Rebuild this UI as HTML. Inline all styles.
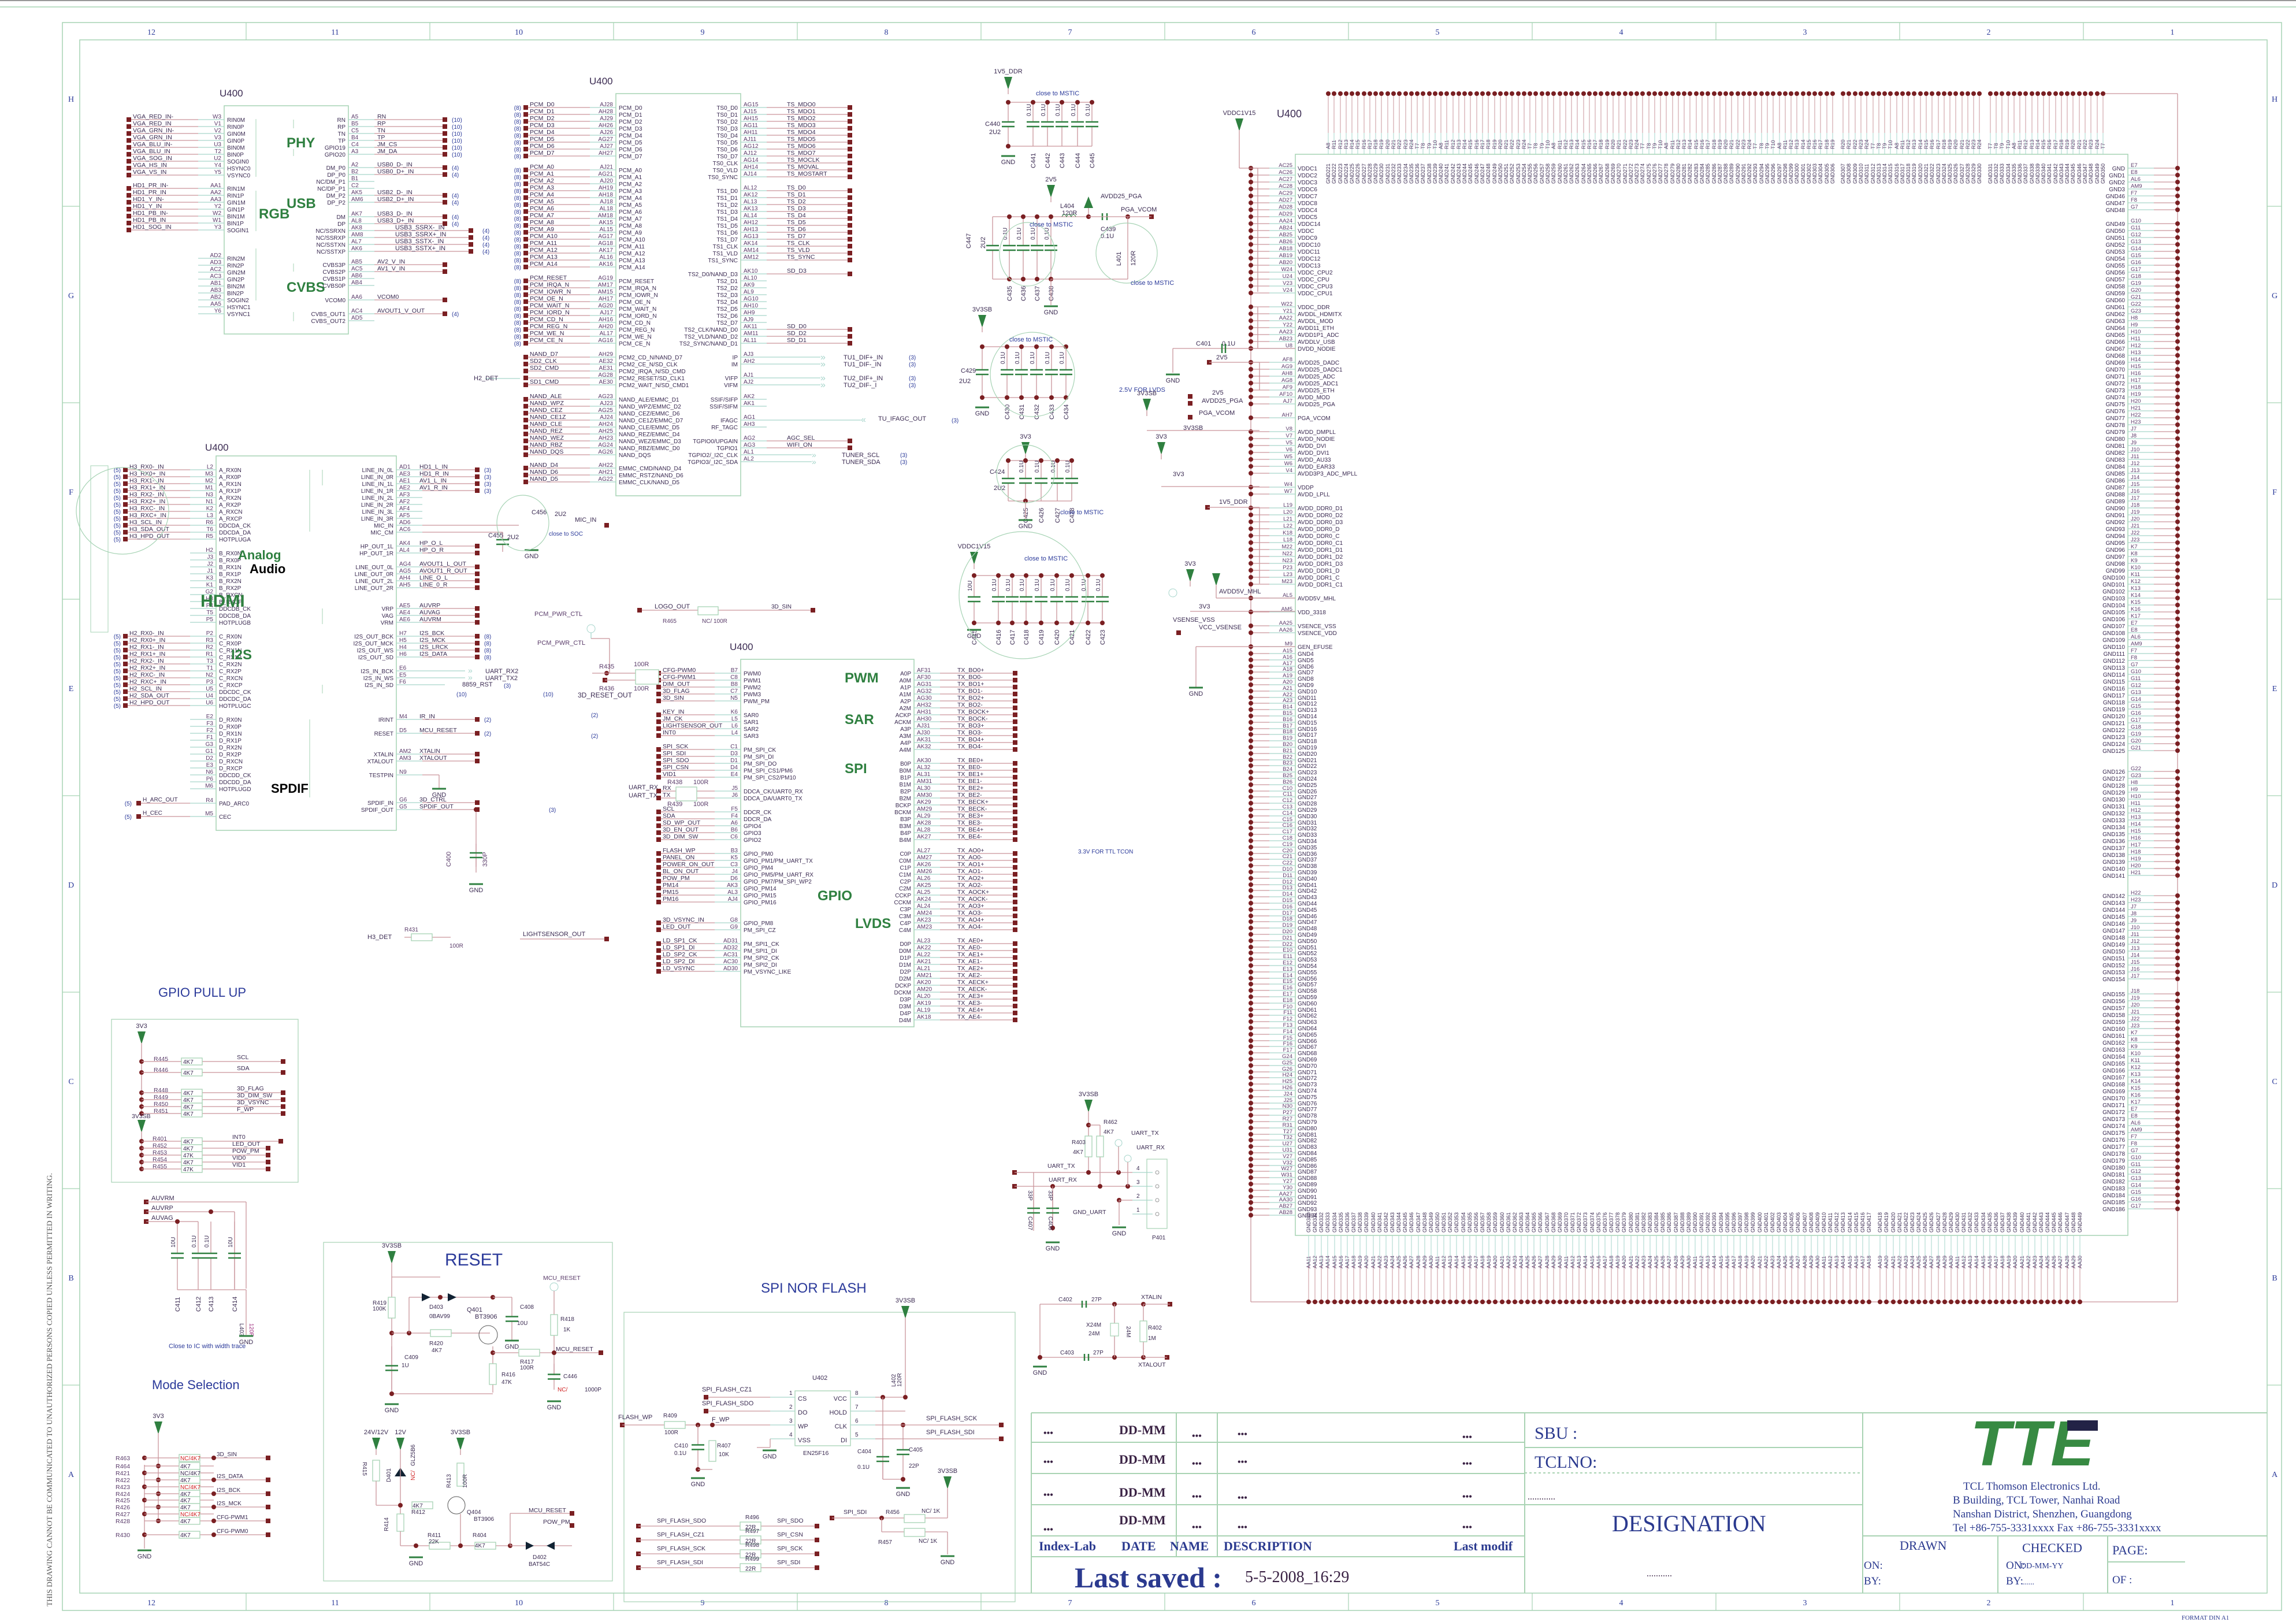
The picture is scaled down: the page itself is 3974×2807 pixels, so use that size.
<!DOCTYPE html>
<html><head><meta charset="utf-8"><style>
html,body{margin:0;padding:0;background:#fff;}
svg{display:block;}
</style></head><body>
<svg id="s" xmlns="http://www.w3.org/2000/svg" width="3974" height="2807" viewBox="0 0 3974 2807" font-family="Liberation Sans, sans-serif">
<rect width="3974" height="2807" fill="#fff"/>
<g id="g"></g>
<g stroke="#a9d3b3" stroke-width="2" fill="none">
<line x1="1785" y1="2445" x2="3924" y2="2445"/>
<line x1="1785" y1="2445" x2="1785" y2="2757"/>
<line x1="1785" y1="2496" x2="2639" y2="2496"/>
<line x1="1785" y1="2550" x2="2639" y2="2550"/>
<line x1="1785" y1="2604" x2="3224" y2="2604"/>
<line x1="1785" y1="2658" x2="2639" y2="2658"/>
<line x1="1785" y1="2694" x2="2639" y2="2694"/>
<line x1="2036" y1="2445" x2="2036" y2="2694"/>
<line x1="2107" y1="2445" x2="2107" y2="2694"/>
<line x1="2639" y1="2445" x2="2639" y2="2757"/>
<line x1="3224" y1="2445" x2="3224" y2="2757"/>
<line x1="2639" y1="2505" x2="3224" y2="2505"/>
<line x1="2639" y1="2549" x2="3224" y2="2549" stroke-dasharray="4 4"/>
<line x1="3224" y1="2658" x2="3924" y2="2658"/>
<line x1="3458" y1="2658" x2="3458" y2="2757"/>
<line x1="3648" y1="2658" x2="3648" y2="2757"/>
<line x1="3648" y1="2703" x2="3782" y2="2703"/>
</g>
<g font-family="Liberation Serif, serif">
<g fill="#3a2244" font-weight="bold" font-size="22">
<text x="1937" y="2482">DD-MM</text><text x="1937" y="2533">DD-MM</text><text x="1937" y="2590">DD-MM</text><text x="1937" y="2638">DD-MM</text>
</g>
<g fill="#3a2244" font-weight="bold" font-size="16">
<text x="1806" y="2485">•••</text><text x="2063" y="2490">•••</text><text x="2142" y="2487">•••</text><text x="2531" y="2492">•••</text>
<text x="1806" y="2535">•••</text><text x="2063" y="2538">•••</text><text x="2142" y="2535">•••</text><text x="2531" y="2538">•••</text>
<text x="1806" y="2592">•••</text><text x="2063" y="2595">•••</text><text x="2142" y="2597">•••</text><text x="2531" y="2595">•••</text>
<text x="1806" y="2652">•••</text><text x="2063" y="2648">•••</text><text x="2142" y="2648">•••</text><text x="2531" y="2648">•••</text>
</g>
<g fill="#2b3a8f" font-weight="bold" font-size="22">
<text x="1798" y="2683">Index-Lab</text><text x="1941" y="2683">DATE</text><text x="2025" y="2683">NAME</text><text x="2118" y="2683">DESCRIPTION</text><text x="2516" y="2683">Last modif</text>
</g>
<text x="1860" y="2747" fill="#2b3a8f" font-weight="bold" font-size="50" textLength="255" lengthAdjust="spacingAndGlyphs">Last saved :</text>
<text x="2155" y="2738" fill="#3a2244" font-size="28">5-5-2008_16:29</text>
<g fill="#2b3a8f" font-size="30">
<text x="2656" y="2490">SBU :</text>
<text x="2656" y="2540">TCLNO:</text>
</g>
<text x="2644" y="2595" fill="#3a2244" font-size="16">............</text>
<text x="2790" y="2650" fill="#2b3a8f" font-size="40">DESIGNATION</text>
<text x="2850" y="2728" fill="#3a2244" font-size="16">...........</text>
<g fill="#2b3a8f" font-size="19">
<text x="3398" y="2578">TCL Thomson Electronics Ltd.</text>
<text x="3380" y="2602">B Building, TCL Tower, Nanhai Road</text>
<text x="3380" y="2626">Nanshan District, Shenzhen, Guangdong</text>
<text x="3380" y="2650">Tel +86-755-3331xxxx    Fax +86-755-3331xxxx</text>
<text x="3288" y="2682" font-size="22">DRAWN</text>
<text x="3500" y="2686" font-size="22">CHECKED</text>
<text x="3656" y="2690" font-size="22">PAGE:</text>
<text x="3226" y="2715">ON:</text><text x="3226" y="2742">BY:</text>
<text x="3472" y="2715">ON:</text><text x="3497" y="2714" font-size="14">DD-MM-YY</text>
<text x="3472" y="2742">BY:</text><text x="3500" y="2742" font-size="14">......</text>
<text x="3656" y="2740">OF :</text>
</g>
<text x="3776" y="2803" fill="#2b3a8f" font-size="11">FORMAT DIN A1</text>
</g>
<g>
<text x="3410" y="2536" fill="#378a42" font-weight="bold" font-size="110" font-style="italic" textLength="215" lengthAdjust="spacingAndGlyphs" font-family="Liberation Sans, sans-serif">TTE</text>
<rect x="3578" y="2458" width="53" height="18" fill="#232346"/>
</g>
</svg>
<script>
(function(){
const W=[];
const C={w:'#c9959b',s:'#a6d5cb',b:'#a6d3b4',t:'#3b2b52',n:'#5b3d6b',bl:'#2b3a9a',g:'#2f8040',q:'#7a1f22'};
function esc(s){return String(s).replace(/&/g,'&amp;').replace(/</g,'&lt;')}
function T(x,y,s,o){o=o||{};W.push('<text x="'+x+'" y="'+y+'" font-size="'+(o.f||10)+'" fill="'+(o.c||C.t)+'"'+(o.a?' text-anchor="'+o.a+'"':'')+(o.w?' font-weight="'+o.w+'"':'')+(o.r!==undefined?' transform="rotate('+o.r+' '+x+' '+y+')"':'')+(o.ff?' font-family="'+o.ff+'"':'')+(o.tl?' textLength="'+o.tl+'" lengthAdjust="spacingAndGlyphs"':'')+'>'+esc(s)+'</text>')}
function L(x1,y1,x2,y2,c,w,d){W.push('<line x1="'+x1+'" y1="'+y1+'" x2="'+x2+'" y2="'+y2+'" stroke="'+(c||C.w)+'" stroke-width="'+(w||1.3)+'"'+(d?' stroke-dasharray="'+d+'"':'')+'/>')}
function R(x,y,w,h,c,f,sw){W.push('<rect x="'+x+'" y="'+y+'" width="'+w+'" height="'+h+'" fill="'+(f||'none')+'" stroke="'+(c||C.b)+'" stroke-width="'+(sw||1.5)+'"/>')}
function Q(x,y){W.push('<rect x="'+(x-4)+'" y="'+(y-4)+'" width="8" height="8" fill="'+C.q+'"/>')}
function D(x,y){W.push('<circle cx="'+x+'" cy="'+y+'" r="4" fill="'+C.q+'"/>')}
function E(cx,cy,rx,ry){W.push('<ellipse cx="'+cx+'" cy="'+cy+'" rx="'+rx+'" ry="'+ry+'" fill="none" stroke="'+C.b+'" stroke-width="1.2"/>')}
function ARR(x,y,lab){W.push('<polygon points="'+(x-7)+','+y+' '+(x+7)+','+y+' '+x+','+(y+22)+'" fill="'+C.g+'"/>');L(x,y+20,x,y+30,C.w);if(lab)T(x,y-6,lab,{a:'middle',f:11})}
function GND(x,y){L(x-12,y,x+12,y,C.g,3);T(x,y+14,'GND',{a:'middle',f:11})}
function CAPV(x,y1,y2,lab,val){const m=(y1+y2)/2;L(x,y1,x,m-4,C.w);L(x,m+4,x,y2,C.w);L(x-11,m-4,x+11,m-4,C.g,2.5);L(x-11,m+4,x+11,m+4,C.g,2.5);if(val)T(x-4,m-14,val,{r:-90,f:10});if(lab)T(x+4,y2+38,lab,{r:-90,f:11})}
function RES(x,y,w,h){R(x,y,w,h,C.b,'#fff',1.3)}
function sp(s){return s.split(' ')}
function seq(y0,st,pins,nums,sigs,ref){const r=[];pins=sp(pins);nums=sp(nums);const sg=(sigs==null)?null:sp(sigs);pins.forEach((p,i)=>{r.push([y0+st*i,p.replace(/~/g,' '),nums[i]||'',sg?(sg[i]==='-'?'':sg[i]):null,ref])});return r}
function blk(x1,y1,x2,y2,left,right,o){
 R(x1,y1,x2-x1,y2-y1,C.b,'none',1.5);
 left.forEach(a=>{const [y,pn,num,sig,ref]=a;L(x1-45,y,x1,y,C.s);T(x1-5,y-2,num,{a:'end',c:C.n});T(x1+5,y+4,pn);
  if(sig!==null&&sig!==undefined){const q=o.lq;L(q,y,x1-45,y,C.w);Q(q,y);if(sig)T(q+7,y-2,sig,{f:10.5});if(ref&&sig)T(q-8,y+4,ref,{a:'end',c:C.bl})}});
 right.forEach(a=>{const [y,pn,num,sig,ref]=a;L(x2,y,x2+45,y,C.s);T(x2+5,y-2,num,{c:C.n});T(x2-5,y+4,pn,{a:'end'});
  if(sig!==null&&sig!==undefined){const q=o.rq;L(x2+45,y,q,y,C.w);Q(q,y);if(sig)T(x2+o.rt,y-2,sig,{f:10.5});if(ref&&sig)T(q+12,y+4,ref,{c:C.bl})}});
}
function GL(x,y,s,f){T(x,y,s,{f:f||24,w:'bold',c:C.g})}
try{
// ===== FRAME =====
L(0,1,3974,1,'#999',2);L(0,12,3974,12,C.b,1.5);
R(108,39,3841,2748,C.b,'none',1.5);R(138,69,3786,2688,C.b,'none',1.5);
for(let k=1;k<12;k++){const x=108+318*k;L(x,39,x,69,C.b,1.2);L(x,2757,x,2787,C.b,1.2)}
for(let k=0;k<12;k++){const x=262+318*k;T(x,60,String(12-k),{c:C.bl,f:14,ff:'Liberation Serif, serif',a:'middle'});T(x,2778,String(12-k),{c:C.bl,f:14,ff:'Liberation Serif, serif',a:'middle'})}
const RL=sp('H G F E D C B A');
RL.forEach((l,i)=>{const y=176+340*i;T(123,y,l,{c:C.bl,f:14,ff:'Liberation Serif, serif',a:'middle'});T(3937,y,l,{c:C.bl,f:14,ff:'Liberation Serif, serif',a:'middle'});if(i<7){L(108,357+340*i,138,357+340*i,C.b);L(3924,357+340*i,3949,357+340*i,C.b)}});
T(90,2780,'THIS DRAWING CANNOT BE COMMUNICATED TO UNAUTHORIZED PERSONS COPIED UNLESS PERMITTED IN WRITING.',{r:-90,f:13,c:'#555',ff:'Liberation Serif, serif',tl:750});

// ===== BLOCK 1 VGA =====
T(380,167,'U400',{f:17});
let l1=[].concat(
 seq(207,12,'RIN0M RIN0P GIN0M GIN0P BIN0M BIN0P SOGIN0 HSYNC0 VSYNC0','W3 V1 V2 V3 U3 T2 U2 Y4 Y5','VGA_RED_IN- VGA_RED_IN VGA_GRN_IN- VGA_GRN_IN VGA_BLU_IN- VGA_BLU_IN VGA_SOG_IN VGA_HS_IN VGA_VS_IN'),
 seq(326,12,'RIN1M RIN1P GIN1M GIN1P BIN1M BIN1P SOGIN1','AA1 AA2 AA3 Y2 W2 W1 Y3','HD1_PR_IN- HD1_PR_IN HD1_Y_IN- HD1_Y_IN HD1_PB_IN- HD1_PB_IN HD1_SOG_IN'),
 seq(447,12,'RIN2M RIN2P GIN2M GIN2P BIN2M BIN2P SOGIN2 HSYNC1 VSYNC1','AD2 AD3 AC2 AC3 AB1 AB3 AB2 AA5 Y6',null));
let r1=[].concat(
 seq(207,12,'RN RP TN TP GPIO19 GPIO20','A5 B5 C5 B4 C4 A3','RN RP TN TP JM_CS JM_DA','(10)'),
 seq(290,12,'DM_P0 DP_P0','A2 B2','USB0_D-_IN USB0_D+_IN','(4)'),
 seq(314,12,'NC/DM_P1 NC/DP_P1','B1 C2',null),
 seq(338,12,'DM_P2 DP_P2','AK5 AM6','USB2_D-_IN USB2_D+_IN','(4)'),
 seq(375,12,'DM DP','AK7 AL8','USB3_D-_IN USB3_D+_IN','(4)'),
 seq(458,12,'CVBS3P CVBS2P','AB5 AC5','AV2_V_IN AV1_V_IN'),
 seq(482,12,'CVBS1P CVBS0P','AB6 AB4',null),
 seq(519,12,'VCOM0','AA6','VCOM0'),
 seq(543,12,'CVBS_OUT1','AC4','AVOUT1_V_OUT','(4)'),
 seq(555,12,'CVBS_OUT2','AD5',null));
blk(388,183,603,578,l1,r1,{lq:223,rq:770,rt:50});
seq(399,12,'NC/SSRXN NC/SSRXP NC/SSTXN NC/SSTXP','AK8 AM8 AL7 AK6',null).forEach(a=>{const y=a[0];L(603,y,648,y,C.s);T(608,y-2,a[2],{c:C.n});T(598,y+4,a[1],{a:'end'});L(648,y,815,y,C.w);Q(815,y);T(835,y+4,'(4)',{c:C.bl})});
sp('USB3_SSRX-_IN USB3_SSRX+_IN USB3_SSTX-_IN USB3_SSTX+_IN').forEach((s,i)=>T(684,397+12*i,s,{f:11}));
GL(496,255,'PHY');GL(496,360,'USB');GL(448,378,'RGB');GL(496,505,'CVBS');
[[443,206,443,306],[443,330,443,400],[443,430,443,520]].forEach(a=>L(a[0],a[1],a[2],a[3],C.b,1));
[[508,207,508,222],[508,258,508,270],[508,456,508,470],[508,540,508,556]].forEach(a=>L(a[0],a[1],a[2],a[3],C.b,1));

// ===== BLOCK 2 HDMI =====
T(355,780,'U400',{f:17});
let l2=[].concat(
 seq(813,12,'A_RX0N A_RX0P A_RX1N A_RX1P A_RX2N A_RX2P A_RXCN A_RXCP DDCDA_CK DDCDA_DA HOTPLUGA','L2 M3 M2 M1 N3 N1 K2 L3 R6 T6 R5','H3_RX0-_IN H3_RX0+_IN H3_RX1-_IN H3_RX1+_IN H3_RX2-_IN H3_RX2+_IN H3_RXC-_IN H3_RXC+_IN H3_SCL_IN H3_SDA_OUT H3_HPD_OUT','(5)'),
 seq(957,12,'B_RX0N B_RX0P B_RX1N B_RX1P B_RX2N B_RX2P B_RXCN B_RXCP DDCDB_CK DDCDB_DA HOTPLUGB','H2 J3 J2 J1 K3 K1 G2 H3 P4 T5 P5',null),
 seq(1101,12,'C_RX0N C_RX0P C_RX1N C_RX1P C_RX2N C_RX2P C_RXCN C_RXCP DDCDC_CK DDCDC_DA HOTPLUGC','P2 R3 R2 R1 T3 T1 N2 P3 U5 U4 U6','H2_RX0-_IN H2_RX0+_IN H2_RX1-_IN H2_RX1+_IN H2_RX2-_IN H2_RX2+_IN H2_RXC-_IN H2_RXC+_IN H2_SCL_IN H2_SDA_OUT H2_HPD_OUT','(5)'),
 seq(1245,12,'D_RX0N D_RX0P D_RX1N D_RX1P D_RX2N D_RX2P D_RXCN D_RXCP DDCDD_CK DDCDD_DA HOTPLUGD','E2 F3 F2 F1 G3 G1 D2 E3 N6 P6 M6',null));
let r2=[].concat(
 seq(813,12,'LINE_IN_0L LINE_IN_0R LINE_IN_1L LINE_IN_1R','AD1 AE3 AE1 AE2','HD1_L_IN HD1_R_IN AV1_L_IN AV1_R_IN','(3)'),
 seq(861,12,'LINE_IN_2L LINE_IN_2R LINE_IN_3L LINE_IN_3R MIC_IN MIC_CM','AF3 AF2 AF4 AF5 AD6 AC6',null),
 seq(945,12,'HP_OUT_1L HP_OUT_1R','AK4 AL4','HP_O_L HP_O_R'),
 seq(981,12,'LINE_OUT_0L LINE_OUT_0R LINE_OUT_2L LINE_OUT_2R','AG4 AG5 AH4 AH5','AVOUT1_L_OUT AVOUT1_R_OUT LINE_O_L LINE_0_R'),
 seq(1053,12,'VRP VAG VRM','AE5 AE4 AE6','AUVRP AUVAG AUVRM'),
 seq(1101,12,'I2S_OUT_BCK I2S_OUT_MCK I2S_OUT_WS I2S_OUT_SD','H7 H5 H4 H6','I2S_BCK I2S_MCK I2S_LRCK I2S_DATA','(8)'),
 seq(1161,12,'I2S_IN_BCK I2S_IN_WS I2S_IN_SD','E6 E5 F6',null),
 seq(1245,24,'IRINT RESET','M4 D5','IR_IN MCU_RESET','(2)'),
 seq(1305,12,'XTALIN XTALOUT','AM2 AM3','XTALIN XTALOUT'),
 seq(1341,12,'TESTPIN','N9',null),
 seq(1389,12,'SPDIF_IN SPDIF_OUT','G6 G5','3D_CTRL SPDIF_OUT'));
blk(374,789,686,1437,l2,r2,{lq:217,rq:826,rt:40});
seq(1390,23,'PAD_ARC0 CEC','R4 M5','H_ARC_OUT H_CEC','(5)').forEach(a=>{const y=a[0];L(329,y,374,y,C.s);T(369,y-2,a[2],{a:'end',c:C.n});T(379,y+4,a[1]);L(240,y,329,y,C.w);Q(240,y);T(247,y-3,a[3]);T(228,y+4,'(5)',{a:'end',c:C.bl})});
GL(347,1050,'HDMI',30);GL(412,968,'Analog',22);T(432,992,'Audio',{f:22,w:'bold',c:'#000'});GL(400,1141,'I2S',24);T(469,1372,'SPDIF',{f:22,w:'bold',c:'#000'});
R(157,806,30,288,C.b,'none',1);E(212,884,80,75);
[[536,813,536,920],[558,813,558,840],[558,1053,558,1080],[558,1185,558,1200],[536,1245,536,1380]].forEach(a=>L(a[0],a[1],a[2],a[3],C.b,1));
L(731,909,898,909,C.w);L(731,921,870,921,C.w);CAPV(870,921,955,'','');T(845,930,'C455',{f:11});T(878,933,'2U2',{f:11});T(920,890,'C456',{f:11});T(960,893,'2U2',{f:11});
Q(1050,909);T(995,903,'MIC_IN',{f:11});GND(920,952);E(905,905,45,48);T(950,927,'close to SOC',{c:C.bl,f:10});
[['UART_RX2',1161],['UART_TX2',1173]].forEach(a=>{L(731,a[1],805,a[1],C.s);T(810,a[1]+4,'»',{c:C.s,f:14});T(840,a[1]+4,a[0],{f:11})});
L(731,1185,770,1185,C.s);T(800,1188,'8859_RST',{f:11});T(872,1190,'(3)',{c:C.bl});T(790,1205,'(10)',{c:C.bl});
L(731,1341,760,1341,C.w);L(760,1341,760,1365,C.w);GND(760,1365);
L(824,1401,824,1510,C.w);D(824,1401);CAPV(824,1460,1500,'','');T(780,1500,'C400',{r:-90,f:11,c:C.n});T(843,1500,'330P',{r:-90,f:11,c:C.n});GND(824,1530);T(950,1405,'(3)',{c:C.bl});

// ===== BLOCK 3 PCM/TS =====
T(1020,146,'U400',{f:17});
let l3=[].concat(
 seq(186,12,'PCM_D0 PCM_D1 PCM_D2 PCM_D3 PCM_D4 PCM_D5 PCM_D6 PCM_D7','AJ28 AH28 AJ29 AH26 AJ26 AG27 AJ27 AH27','PCM_D0 PCM_D1 PCM_D2 PCM_D3 PCM_D4 PCM_D5 PCM_D6 PCM_D7','(8)'),
 seq(294,12,'PCM_A0 PCM_A1 PCM_A2 PCM_A3 PCM_A4 PCM_A5 PCM_A6 PCM_A7 PCM_A8 PCM_A9 PCM_A10 PCM_A11 PCM_A12 PCM_A13 PCM_A14','AJ21 AG21 AJ20 AH19 AH18 AJ18 AL18 AM18 AK15 AL15 AG17 AG18 AK17 AL16 AK16','PCM_A0 PCM_A1 PCM_A2 PCM_A3 PCM_A4 PCM_A5 PCM_A6 PCM_A7 PCM_A8 PCM_A9 PCM_A10 PCM_A11 PCM_A12 PCM_A13 PCM_A14','(8)'),
 seq(486,12,'PCM_RESET PCM_IRQA_N PCM_IOWR_N PCM_OE_N PCM_WAIT_N PCM_IORD_N PCM_CD_N PCM_REG_N PCM_WE_N PCM_CE_N','AG19 AM17 AM15 AH17 AG20 AJ17 AH16 AH20 AL17 AG16','PCM_RESET PCM_IRQA_N PCM_IOWR_N PCM_OE_N PCM_WAIT_N PCM_IORD_N PCM_CD_N PCM_REG_N PCM_WE_N PCM_CE_N','(8)'),
 seq(618,12,'PCM2_CD_N/NAND_D7 PCM2_CE_N/SD_CLK PCM2_IRQA_N/SD_CMD PCM2_RESET/SD_CLK1 PCM2_WAIT_N/SD_CMD1','AH29 AE32 AE31 AG28 AE30','NAND_D7 SD2_CLK SD2_CMD - SD1_CMD'),
 seq(691,12,'NAND_ALE/EMMC_D1 NAND_WPZ/EMMC_D2 NAND_CEZ/EMMC_D6 NAND_CE1Z/EMMC_D7 NAND_CLE/EMMC_D5 NAND_REZ/EMMC_D4 NAND_WEZ/EMMC_D3 NAND_RBZ/EMMC_D0 NAND_DQS','AG23 AJ23 AG25 AJ24 AH24 AH25 AH23 AG24 AG26','NAND_ALE NAND_WPZ NAND_CEZ NAND_CE1Z NAND_CLE NAND_REZ NAND_WEZ NAND_RBZ NAND_DQS'),
 seq(810,12,'EMMC_CMD/NAND_D4 EMMC_RSTZ/NAND_D6 EMMC_CLK/NAND_D5','AH22 AH21 AG22','NAND_D4 NAND_D6 NAND_D5'));
let r3=[].concat(
 seq(186,12,'TS0_D0 TS0_D1 TS0_D2 TS0_D3 TS0_D4 TS0_D5 TS0_D6 TS0_D7 TS0_CLK TS0_VLD TS0_SYNC','AG15 AJ15 AH15 AG11 AH11 AJ11 AG12 AJ12 AG14 AH14 AJ14','TS_MDO0 TS_MDO1 TS_MDO2 TS_MDO3 TS_MDO4 TS_MDO5 TS_MDO6 TS_MDO7 TS_MOCLK TS_MOVAL TS_MOSTART'),
 seq(330,12,'TS1_D0 TS1_D1 TS1_D2 TS1_D3 TS1_D4 TS1_D5 TS1_D6 TS1_D7 TS1_CLK TS1_VLD TS1_SYNC','AL12 AK12 AL13 AK13 AL14 AH12 AH13 AG13 AK14 AM14 AM12','TS_D0 TS_D1 TS_D2 TS_D3 TS_D4 TS_D5 TS_D6 TS_D7 TS_CLK TS_VLD TS_SYNC'),
 seq(474,12,'TS2_D0/NAND_D3','AK10','SD_D3'),
 seq(486,12,'TS2_D1 TS2_D2 TS2_D3 TS2_D4 TS2_D5 TS2_D6 TS2_D7','AL10 AK9 AL9 AG10 AH10 AH9 AJ9',null),
 seq(570,12,'TS2_CLK/NAND_D0 TS2_VLD/NAND_D2 TS2_SYNC/NAND_D1','AK11 AM11 AL11','SD_D0 SD_D2 SD_D1'),
 seq(618,12,'IP IM','AJ3 AH2',null),seq(654,12,'VIFP VIFM','AJ1 AJ2',null),
 seq(691,12,'SSIF/SIFP SSIF/SIFM','AK2 AK1',null),seq(727,12,'IFAGC RF_TAGC','AG1 AH3',null),
 seq(763,12,'TGPIO0/UPGAIN TGPIO1','AG2 AG3','AGC_SEL WIFI_ON'),
 seq(787,12,'TGPIO2/_I2C_CLK TGPIO3/_I2C_SDA','AL1 AL2',null));
blk(1066,162,1282,858,l3,r3,{lq:910,rq:1471,rt:80});
[['TU1_DIF+_IN',618],['TU1_DIF-_IN',630],['TU2_DIF+_IN',654],['TU2_DIF-_I',666]].forEach(a=>{L(1327,a[1],1420,a[1],C.s);T(1420,a[1]+5,'»',{c:C.s,f:16});T(1460,a[1]+4,a[0],{f:11});T(1573,a[1]+4,'(3)',{c:C.bl})});
L(1327,727,1490,727,C.s);T(1490,731,'«',{c:C.s,f:16});T(1520,728,'TU_IFAGC_OUT',{f:11});T(1647,731,'(3)',{c:C.bl});
[['TUNER_SCL',787],['TUNER_SDA',799]].forEach(a=>{L(1327,a[1],1405,a[1],C.s);T(1405,a[1]+5,'»',{c:C.s,f:14});T(1457,a[1]+4,a[0],{f:11});T(1558,a[1]+4,'(3)',{c:C.bl})});
L(840,655,900,655,C.s);T(820,658,'H2_DET',{f:11});

// ===== BLOCK 4 PWM/GPIO =====
T(1263,1125,'U400',{f:17});
let l4=[].concat(
 seq(1165,12,'PWM0 PWM1 PWM2 PWM3 PWM_PM','B7 C8 B8 C7 N5','CFG-PWM0 CFG-PWM1 DIM_OUT 3D_FLAG 3D_SIN'),
 seq(1237,12,'SAR0 SAR1 SAR2 SAR3','K6 L5 L6 L4','KEY_IN JM_CK LIGHTSENSOR_OUT INT0'),
 seq(1297,12,'PM_SPI_CK PM_SPI_DI PM_SPI_DO PM_SPI_CS1/PM6 PM_SPI_CS2/PM10','C1 D3 D1 D4 E4','SPI_SCK SPI_SDI SPI_SDO SPI_CSN VID1'),
 seq(1369,12,'DDCA_CK/UART0_RX DDCA_DA/UART0_TX','J5 J6','RX TX'),
 seq(1405,12,'DDCR_CK DDCR_DA GPIO4 GPIO3 GPIO2','F5 F4 A6 B6 C6','SCL SDA SD_WP_OUT 3D_EN_OUT 3D_DIM_SW'),
 seq(1477,12,'GPIO_PM0 GPIO_PM1/PM_UART_TX GPIO_PM4 GPIO_PM5/PM_UART_RX GPIO_PM7/PM_SPI_WP2 GPIO_PM14 GPIO_PM15 GPIO_PM16','B3 K5 C3 J4 D6 AK3 AL3 AJ4','FLASH_WP PANEL_ON POWER_ON_OUT BL_ON_OUT POW_PM PM14 PM15 PM16'),
 seq(1597,12,'GPIO_PM8 PM_SPI_CZ','G8 G9','3D_VSYNC_IN LED_OUT'),
 seq(1633,12,'PM_SPI1_CK PM_SPI1_DI PM_SPI2_CK PM_SPI2_DI PM_VSYNC_LIKE','AD31 AD32 AC31 AC30 AD30','LD_SP1_CK LD_SP1_DI LD_SP2_CK LD_SP2_DI LD_VSYNC'));
let r4=[].concat(
 seq(1165,12,'A0P A0M A1P A1M A2P A2M ACKP ACKM A3P A3M A4P A4M','AF31 AF30 AG31 AG32 AG30 AH32 AH31 AH30 AJ31 AJ30 AK31 AK32','TX_BO0+ TX_BO0- TX_BO1+ TX_BO1- TX_BO2+ TX_BO2- TX_BOCK+ TX_BOCK- TX_BO3+ TX_BO3- TX_BO4+ TX_BO4-'),
 seq(1321,12,'B0P B0M B1P B1M B2P B2M BCKP BCKM B3P B3M B4P B4M','AK30 AL32 AL31 AM31 AL30 AM30 AK29 AM29 AL29 AK28 AL28 AK27','TX_BE0+ TX_BE0- TX_BE1+ TX_BE1- TX_BE2+ TX_BE2- TX_BECK+ TX_BECK- TX_BE3+ TX_BE3- TX_BE4+ TX_BE4-'),
 seq(1477,12,'C0P C0M C1P C1M C2P C2M CCKP CCKM C3P C3M C4P C4M','AL27 AM27 AK26 AM26 AL26 AK25 AL25 AK24 AL24 AM24 AK23 AM23','TX_AO0+ TX_AO0- TX_AO1+ TX_AO1- TX_AO2+ TX_AO2- TX_AOCK+ TX_AOCK- TX_AO3+ TX_AO3- TX_AO4+ TX_AO4-'),
 seq(1633,12,'D0P D0M D1P D1M D2P D2M DCKP DCKM D3P D3M D4P D4M','AL23 AK22 AL22 AK21 AL21 AM21 AK20 AM20 AL20 AK19 AL19 AK18','TX_AE0+ TX_AE0- TX_AE1+ TX_AE1- TX_AE2+ TX_AE2- TX_AECK+ TX_AECK- TX_AE3+ TX_AE3- TX_AE4+ TX_AE4-'));
blk(1282,1141,1582,1777,l4,r4,{lq:1140,rq:1757,rt:75});
GL(1462,1181,'PWM');GL(1462,1253,'SAR');GL(1462,1338,'SPI');GL(1415,1558,'GPIO');GL(1480,1606,'LVDS');
T(1866,1477,'3.3V FOR TTL TCON',{c:C.bl,f:10});
T(925,1066,'PCM_PWR_CTL',{f:11,c:C.n});T(930,1116,'PCM_PWR_CTL',{f:11,c:C.n});
W.push('<circle cx="1023" cy="1088" r="7" fill="none" stroke="'+C.s+'"/>');L(1023,1095,1023,1105,C.s);L(1023,1105,1055,1105,C.w);L(1055,1105,1055,1165,C.w);
D(1050,1165);L(1025,1165,1150,1165,C.w);Q(1047,1177);L(1047,1177,1150,1177,C.w);RES(1100,1159,40,25);
T(1037,1157,'R435',{f:11,c:C.n});T(1097,1153,'100R',{f:11,c:C.n});T(1037,1195,'R436',{f:11,c:C.n});T(1097,1195,'100R',{f:11,c:C.n});
T(1000,1207,'3D_RESET_OUT',{f:12});T(940,1205,'(10)',{c:C.bl});
L(1107,1056,1407,1056,C.w);Q(1107,1056);Q(1407,1056);RES(1208,1050,35,14);T(1133,1053,'LOGO_OUT',{f:11});T(1335,1053,'3D_SIN',{f:10});T(1147,1078,'R465',{f:10,c:C.n});T(1215,1078,'NC/  100R',{f:10,c:C.n});
[1237,1273].forEach(y=>T(1023,y+4,'(2)',{c:C.bl}));
RES(1170,1362,36,24);T(1155,1357,'R438',{f:11,c:C.n});T(1200,1357,'100R',{f:11,c:C.n});T(1155,1395,'R439',{f:11,c:C.n});T(1200,1395,'100R',{f:11,c:C.n});
T(1088,1366,'UART_RX',{f:11});T(1088,1380,'UART_TX',{f:11});
L(900,1625,1050,1625,C.w);Q(1050,1625);T(905,1620,'LIGHTSENSOR_OUT',{f:11});
L(700,1622,780,1622,C.w);RES(712,1616,36,12);T(700,1612,'R431',{f:10,c:C.n});T(778,1640,'100R',{f:10,c:C.n});T(636,1625,'H3_DET',{f:11});

// ===== BLOCK 5 POWER =====
T(2210,203,'U400',{f:18});
R(2242,267,1441,1871,C.b,'none',1.5);
L(2165,2253,3769,2253,C.w);L(2165,291,2165,2253,C.w);L(3634,162,3769,162,C.w);L(3769,162,3769,2253,C.w);
let lp=[].concat(
 seq(291,12,'VDDC1 VDDC2 VDDC3 VDDC6 VDDC7 VDDC8 VDDC4 VDDC5 VDDC14 VDDC VDDC9 VDDC10 VDDC11 VDDC12 VDDC13 VDDC_CPU2 VDDC_CPU VDDC_CPU3 VDDC_CPU1','AC25 AC26 AC27 AC28 AC29 AD27 AD28 AD29 AA24 AB24 AB25 AB26 AB18 AB19 AB20 W24 U24 V23 V24'),
 seq(531,12,'VDDC_DDR AVDDL_HDMITX AVDDL_MOD AVDD11_ETH AVDD1P1_ADC AVDDLV_USB DVDD_NODIE','W22 Y21 AA22 Y22 AA23 AB23 U8'),
 seq(627,12,'AVDD25_DADC AVDD25_DADC1 AVDD25_ADC AVDD25_ADC1 AVDD25_ETH AVDD_MOD AVDD25_PGA','AF8 AG9 AH8 AG8 AF9 AF10 AJ7'),
 seq(723,12,'PGA_VCOM','AH7'),
 seq(747,12,'AVDD_DMPLL AVDD_NODIE AVDD_DVI AVDD_DVI1 AVDD_AU33 AVDD_EAR33 AVDD3P3_ADC_MPLL','V8 V7 V5 V6 W5 W6 V4'),
 seq(843,12,'VDDP AVDD_LPLL','W4 W7'),
 seq(879,12,'AVDD_DDR0_D1 AVDD_DDR0_D2 AVDD_DDR0_D3 AVDD_DDR0_D AVDD_DDR0_C AVDD_DDR0_C1 AVDD_DDR1_D1 AVDD_DDR1_D2 AVDD_DDR1_D3 AVDD_DDR1_D AVDD_DDR1_C AVDD_DDR1_C1','L19 L20 L21 L22 K18 L18 M22 N22 N23 P23 L23 M23'),
 seq(1035,12,'AVDD5V_MHL','AL5'),seq(1059,12,'VDD_3318','AM5'),seq(1083,12,'VSENCE_VSS VSENCE_VDD','AA25 AA26'),
 seq(1119,12,'GEN_EFUSE','M9'));
const gl=sp('A15 A16 A17 A18 A19 A20 A21 A22 A23 B14 B15 B16 B17 B18 B19 B20 B21 B22 B23 B24 B25 B26 C10 C11 C12 C13 C14 C15 C16 C17 C18 C19 C20 C21 C22 D10 D11 D12 D13 D14 D15 D16 D17 D18 D19 D20 D21 D22 E10 E11 E12 E13 E14 E15 E16 E17 E18 F10 F11 F12 F13 F14 F15 F16 F17 G24 G25 G26 H24 H25 H26 J24 J25 N30 P27 R27 R31 T27 T32 U27 U31 V27 V32 W27 W31 Y27 Y30 AA27 AA30 AB27 AB28 AB29 AB30 D7');
gl.forEach((n,i)=>lp.push([1131+10.8*i,'GND'+(4+i),n,null]));
lp.forEach(a=>{const y=Math.round(a[0]);if(y>2110)return;L(2197,y,2242,y,C.s);L(2165,y,2197,y,C.w);D(2165,y);T(2237,y-2,a[2],{a:'end',c:C.n,f:9.5});T(2246,y+4,a[1],{f:10})});
let ry=[];for(let y=291;y<=363;y+=12)ry.push(y);for(let y=387;y<=1310;y+=12)ry.push(y);for(let y=1335;y<=1525;y+=12)ry.push(y);for(let y=1550;y<=1700;y+=12)ry.push(y);for(let y=1720;y<=2102;y+=12)ry.push(y);
const rn=sp('E7 E8 AL6 AM9 F7 F8 G7 G10 G11 G12 G13 G14 G15 G16 G17 G18 G19 G20 G21 G22 G23 H8 H9 H10 H11 H12 H13 H14 H15 H16 H17 H18 H19 H20 H21 H22 H23 J7 J8 J9 J10 J11 J12 J13 J14 J15 J16 J17 J18 J19 J20 J21 J22 J23 K7 K8 K9 K10 K11 K12 K13 K14 K15 K16 K17');
ry.forEach((y,i)=>{L(3683,y,3728,y,C.s);L(3728,y,3769,y,C.w);D(3769,y);T(3688,y-2,rn[i%rn.length],{c:C.n,f:9.5});T(3678,y+4,'GND'+(i<4?(i||''):(i+42)),{a:'end',f:10})});
const tnl=['A8','R11','R12','R13','R14','R15','R16','R17','R18','R19','R20','R21','R22','R23','R24','T7','T8','T9','T10'];
for(let i=0;i<130;i++){const x=Math.round(2299+i*10.27+(i>=86?8:0)+(i>=110?8:0));if(x>3640)break;L(x,162,x,230,C.w,1);L(x,230,x,267,C.s,1);D(x,162);
 T(x+3,258,tnl[i%19],{r:-90,f:9,c:C.n});T(x+3,318,'GND'+(221+i),{r:-90,f:9})}
for(let i=0;i<120;i++){const x=Math.round(2265+i*11.15+(i>=88?8:0));if(x>3612)break;L(x,2138,x,2190,C.s,1);L(x,2190,x,2253,C.w,1);D(x,2253);
 T(x+3,2195,'AA'+(11+i%20),{r:-90,f:9,c:C.n});T(x+3,2133,'GND'+(330+i),{r:-90,f:9})}
ARR(2145,205,'VDDC1V15');L(2145,235,2145,291,C.w);L(2145,291,2177,291,C.w);L(2177,291,2177,505,C.w);
L(2177,531,2177,603,C.w);
T(2070,598,'C401',{f:11});T(2115,598,'0.1U',{f:11});L(2030,603,2242,603,C.w);L(2115,595,2115,611,C.g,2.5);L(2121,595,2121,611,C.g,2.5);L(2030,603,2030,645,C.w);GND(2030,648);
Q(2093,627);T(2105,622,'2V5',{f:11});L(2093,627,2180,627,C.w);L(2180,627,2180,675,C.w);
T(1937,678,'2.5V FOR LVDS',{c:C.bl,f:11});ARR(1985,690,'3V3SB');T(2048,744,'3V3SB',{f:11});L(1985,745,2180,745,C.w);
Q(2060,686);Q(2060,698);T(2098,683,'2V5',{f:11});T(2080,697,'AVDD25_PGA',{f:11});Q(2060,722);T(2075,718,'PGA_VCOM',{f:11});
ARR(2010,765,'3V3');T(2030,824,'3V3',{f:11});L(2010,842,2180,842,C.w);
Q(2090,878);T(2110,872,'1V5_DDR',{f:11});L(2090,878,2180,878,C.w);L(2180,878,2180,1010,C.w);
ARR(2060,985,'3V3');T(2075,1053,'3V3',{f:11});L(2060,1058,2242,1058,C.w);
ARR(2105,992,'');T(2110,1027,'AVDD5V_MHL',{f:11});L(2105,1022,2105,1035,C.w);L(2105,1035,2242,1035,C.w);
W.push('<circle cx="2030" cy="1026" r="7" fill="none" stroke="'+C.s+'"/>');T(2030,1076,'VSENSE_VSS',{f:11});T(2075,1089,'VCC_VSENSE',{f:11});Q(2040,1095);
L(2070,1119,2242,1119,C.w);L(2070,1119,2070,1190,C.w);GND(2070,1190);

// ===== DECOUPLING =====
ARR(1745,133,'1V5_DDR');L(1745,177,1890,177,C.w);L(1745,253,1890,253,C.w);CAPV(1745,177,253,'','');T(1705,218,'C440',{f:11});T(1712,232,'2U2',{f:11});GND(1745,270);
[1788,1813,1838,1865,1890].forEach((x,i)=>{CAPV(x,177,253,'C'+(441+i),'0.1U');D(x,177)});D(1745,177);D(1745,253);T(1793,165,'close to MSTIC',{c:C.bl,f:11});
ARR(1819,320,'2V5');L(1718,375,1885,375,C.w);L(1718,483,1819,483,C.w);CAPV(1718,375,483,'','');T(1680,430,'C447',{r:-90,f:11});T(1705,430,'2U2',{r:-90,f:11});
[1747,1771,1795,1819].forEach((x,i)=>{CAPV(x,375,483,'C'+(435+i),'0.1U');D(x,375);D(x,483)});E(1778,440,48,55);T(1782,392,'close to MSTIC',{c:C.bl,f:11});GND(1819,530);L(1819,483,1819,528,C.w);
T(1835,360,'L404',{f:11});T(1838,372,'120R',{f:11});W.push('<path d="M1838 375 q4 -8 8 0 q4 -8 8 0 q4 -8 8 0" fill="none" stroke="'+C.g+'"/>');
W.push('<polygon points="1884,340 1876,360 1892,360" fill="'+C.g+'"/>');L(1884,360,1884,375,C.w);D(1884,375);T(1905,343,'AVDD25_PGA',{f:11});
L(1908,369,1908,381,C.g,2.5);L(1916,369,1916,381,C.g,2.5);T(1905,400,'C439',{f:11});T(1905,412,'0.1U',{f:11});D(1952,375);T(1940,366,'PGA_VCOM',{f:11});Q(1993,375);L(1884,375,1993,375,C.w);
L(1952,375,1952,483,C.w);L(1952,483,1819,483,C.w);T(1940,460,'L401',{r:-90,f:11});T(1965,460,'120R',{r:-90,f:11});E(1950,438,53,52);T(1957,493,'close to MSTIC',{c:C.bl,f:11});
ARR(1700,545,'3V3SB');L(1700,600,1845,600,C.w);L(1700,688,1845,688,C.w);CAPV(1700,600,688,'','');T(1663,645,'C429',{f:11});T(1660,663,'2U2',{f:11});GND(1700,705);
[1743,1768,1794,1820,1845].forEach((x,i)=>{CAPV(x,600,688,'C'+(430+i),'0.1U');D(x,600);D(x,688)});D(1700,600);D(1700,688);E(1787,648,73,73);T(1747,591,'close to MSTIC',{c:C.bl,f:11});
ARR(1775,765,'3V3');L(1745,797,1855,797,C.w);L(1745,867,1855,867,C.w);[1745,1775,1802,1830,1855].forEach((x,i)=>{CAPV(x,797,867,i?'C'+(424+i):'',i?'0.1U':'');D(x,797)});D(1775,867);T(1713,820,'C424',{f:11});T(1720,848,'2U2',{f:11});GND(1775,900);L(1775,867,1775,898,C.w);E(1775,820,50,50);T(1835,890,'close to MSTIC',{c:C.bl,f:11});
ARR(1686,955,'VDDC1V15');L(1686,996,1908,996,C.w);L(1686,1078,1908,1078,C.w);CAPV(1686,996,1078,'C415','10U');GND(1686,1090);
[1728,1752,1776,1802,1829,1855,1883,1908].forEach((x,i)=>{CAPV(x,996,1078,'C'+(416+i),'0.1U');D(x,996);D(x,1078)});D(1686,996);D(1686,1078);E(1770,1030,110,110);T(1773,970,'close to MSTIC',{c:C.bl,f:11});

// ===== GPIO PULL UP =====
T(274,1725,'GPIO PULL UP',{c:C.bl,f:22});R(193,1764,323,282,C.b,'none',1.2);
ARR(245,1785,'3V3');L(245,1815,245,1930,C.w);
[['R445',1837,'SCL',490],['R446',1856,'SDA',490],['R448',1891,'3D_FLAG',490],['R449',1903,'3D_DIM_SW',490],['R450',1915,'3D_VSYNC',490],['R451',1927,'F_WP',490]].forEach(a=>{D(245,a[1]);L(245,a[1],490,a[1],C.w);RES(314,a[1]-6,36,12);T(317,a[1]+4,'4K7',{f:10});T(266,a[1]-1,a[0],{f:10.5,c:C.n});T(410,a[1]-4,a[2],{f:10.5});Q(490,a[1])});
ARR(245,1938,'');T(228,1935,'3V3SB',{f:10.5});L(245,1968,245,2023,C.w);
[['R401',1975,'INT0','4K7',486],['R452',1987,'LED_OUT','4K7',464],['R453',1999,'POW_PM','47K',464],['R454',2011,'VID0','4K7',464],['R455',2023,'VID1','47K',464]].forEach(a=>{D(245,a[1]);L(245,a[1],a[4],a[1],C.w);RES(314,a[1]-6,36,12);T(317,a[1]+4,a[3],{f:10});T(264,a[1]-1,a[0],{f:10.5,c:C.n});T(402,a[1]-4,a[2],{f:10.5});Q(a[4],a[1])});
[['AUVRM',2080],['AUVRP',2097],['AUVAG',2114]].forEach(a=>{Q(253,a[1]);T(262,a[1]-3,a[0],{f:11});});
L(253,2080,426,2080,C.w);L(426,2080,426,2230,C.w);L(253,2097,406,2097,C.w);L(406,2097,406,2230,C.w);L(253,2114,343,2114,C.w);
[307,343,365,406].forEach((x,i)=>{CAPV(x,2114,2232,'C'+(411+i),['10U','0.1U','0.1U','10U'][i])});L(307,2232,426,2232,C.w);D(365,2097);D(307,2114);
T(415,2290,'L403',{r:90,f:10});T(432,2290,'120R',{r:90,f:10,c:'#a03080'});L(426,2232,426,2310,C.w);GND(426,2312);T(292,2333,'Close to IC with width trace',{c:C.bl,f:11});
T(263,2404,'Mode Selection',{c:C.bl,f:22});ARR(274,2460,'3V3');L(274,2490,274,2630,C.w);L(250,2535,250,2680,C.w);GND(250,2683);
[['R463',2523,'3D_SIN','NC/4K7'],['R464',2537,'','4K7'],['R421',2549,'','NC/4K7'],['R422',2561,'I2S_DATA','4K7'],['R423',2573,'','NC/4K7'],['R424',2585,'I2S_BCK','4K7'],['R425',2596,'','4K7'],['R426',2608,'I2S_MCK','4K7'],['R427',2620,'','NC/4K7'],['R428',2632,'CFG-PWM1','4K7'],['R430',2656,'CFG-PWM0','4K7']].forEach((a,i)=>{T(200,a[1]+4,a[0],{f:10.5,c:C.n});D(i%2?274:250,a[1]);L(250,a[1],370,a[1],C.w);RES(310,a[1]-6,36,12);T(312,a[1]+4,a[3],{f:10,c:a[3].indexOf('NC')==0&&i%4==0?'#d02020':C.t});if(a[2]){L(370,a[1],464,a[1],C.w);Q(464,a[1]);D(370,a[1]);T(375,a[1]-3,a[2],{f:10})}});
// RESET
R(560,2150,500,586,C.b,'none',1.2);T(770,2190,'RESET',{c:C.bl,f:30});
ARR(678,2165,'3V3SB');L(678,2195,678,2412,C.w);RES(672,2245,12,36);T(645,2258,'R419',{f:10});T(645,2268,'100K',{f:10});
L(678,2210,762,2210,C.w);D(678,2307);L(678,2307,848,2307,C.w);D(708,2307);L(708,2307,708,2245,C.w);L(708,2245,853,2245,C.w);
W.push('<polygon points="730,2238 730,2252 745,2245" fill="#123"/><polygon points="775,2238 775,2252 790,2245" fill="#123"/>');D(762,2245);
T(743,2265,'D403',{f:10});T(743,2281,'0BAV99',{f:10});T(808,2270,'Q401',{f:11});T(822,2282,'BT3906',{f:11});
W.push('<circle cx="845" cy="2310" r="16" fill="none" stroke="#555"/>');RES(745,2301,36,12);T(743,2328,'R420',{f:10});T(747,2340,'4K7',{f:10});
D(853,2245);L(853,2245,886,2245,C.w);CAPV(886,2245,2320,'','');T(900,2265,'C408',{f:10});T(895,2293,'10U',{f:10});GND(886,2320);
L(853,2330,853,2410,C.w);D(853,2341);L(853,2341,1040,2341,C.w);RES(898,2335,36,12);T(900,2360,'R417',{f:10});T(900,2370,'100R',{f:10});
RES(847,2360,12,36);T(868,2382,'R416',{f:10});T(868,2395,'47K',{f:10});L(678,2412,853,2412,C.w);CAPV(678,2330,2405,'','');T(700,2352,'C409',{f:10});T(695,2366,'1U',{f:10});D(678,2412);GND(678,2430);
W.push('<circle cx="959" cy="2227" r="7" fill="none" stroke="'+C.s+'"/>');T(940,2215,'MCU_RESET',{f:10.5,c:C.n});L(959,2234,959,2380,C.w);RES(953,2275,12,36);T(970,2286,'R418',{f:10});T(975,2304,'1K',{f:10});
D(959,2341);T(962,2338,'MCU_RESET',{f:10.5});Q(1040,2341);CAPV(959,2360,2405,'','');T(975,2385,'C446',{f:10});T(965,2408,'NC/',{f:10,c:'#d02020'});T(1012,2408,'1000P',{f:10});GND(959,2425);
ARR(651,2488,'24V/12V');ARR(693,2488,'12V');ARR(797,2488,'3V3SB');
RES(645,2527,12,36);T(628,2530,'R415',{r:90,f:10});L(651,2563,651,2605,C.w);L(651,2605,693,2605,C.w);W.push('<polygon points="683,2555 703,2555 693,2540" fill="#123"/>');T(676,2565,'D401',{r:-90,f:10});T(718,2562,'NC/',{r:-90,f:10,c:'#d02020'});T(718,2537,'GLZ5B6',{r:-90,f:10});
L(693,2518,693,2650,C.w);D(693,2605);RES(713,2599,36,12);T(712,2620,'R412',{f:10});T(714,2609,'4K7',{f:10});RES(687,2620,12,30);T(672,2650,'R414',{r:-90,f:10});
W.push('<circle cx="790" cy="2605" r="15" fill="none" stroke="#555"/>');RES(791,2532,12,40);T(780,2575,'R413',{r:-90,f:10});T(808,2575,'100R',{r:-90,f:10});
T(808,2620,'Q404',{f:10});T(820,2632,'BT3906',{f:10});L(797,2620,797,2675,C.w);L(693,2650,693,2675,C.w);L(693,2675,880,2675,C.w);D(720,2675);GND(720,2695);
RES(743,2669,36,12);T(740,2660,'R411',{f:10});T(742,2671,'22K',{f:10});D(797,2675);RES(822,2669,36,12);T(818,2660,'R404',{f:10});T(822,2678,'4K7',{f:10});
D(883,2675);L(883,2675,990,2675,C.w);L(883,2675,883,2619,C.w);L(883,2619,987,2619,C.w);Q(990,2619);T(915,2617,'MCU_RESET',{f:10.5});Q(990,2640);T(940,2637,'POW_PM',{f:10.5});
W.push('<polygon points="910,2668 910,2682 924,2675" fill="#123"/><polygon points="960,2668 960,2682 946,2675" fill="#123"/>');T(922,2698,'D402',{f:10});T(915,2710,'BAT54C',{f:10});

// ===== SPI NOR FLASH =====
T(1317,2237,'SPI NOR FLASH',{c:C.bl,f:24});R(1080,2271,677,501,C.b,'none',1.2);
ARR(1567,2260,'3V3SB');L(1567,2290,1567,2418,C.w);T(1550,2400,'L402',{r:-90,f:10});T(1560,2400,'120R',{r:-90,f:10});
R(1376,2407,96,95,C.b,'none',1.3);T(1406,2388,'U402',{f:11});T(1390,2518,'EN25F16',{f:10.5});
[['CS','1',2418],['DO','2',2442],['WP','3',2466],['VSS','4',2490]].forEach(a=>{T(1381,a[2]+6,a[0],{f:11});L(1333,a[2],1376,a[2],C.s);T(1366,a[2]-4,a[1],{f:10})});
[['VCC','8',2418],['HOLD','7',2442],['CLK','6',2466],['DI','5',2490]].forEach(a=>{T(1466,a[2]+6,a[0],{f:11,a:'end'});L(1472,a[2],1515,a[2],C.s);T(1480,a[2]-4,a[1],{f:10})});
L(1222,2418,1333,2418,C.w);Q(1222,2418);T(1215,2408,'SPI_FLASH_CZ1',{f:11});L(1222,2442,1333,2442,C.w);Q(1222,2442);T(1215,2432,'SPI_FLASH_SDO',{f:11});
Q(1077,2466);T(1070,2456,'FLASH_WP',{f:11});L(1077,2466,1333,2466,C.w);RES(1150,2460,36,12);T(1148,2453,'R409',{f:10});T(1150,2482,'100R',{f:10});D(1208,2466);D(1233,2466);T(1232,2460,'F_WP',{f:11});
CAPV(1208,2466,2543,'','');T(1167,2505,'C410',{f:10});T(1167,2518,'0.1U',{f:10});RES(1227,2493,12,36);T(1241,2505,'R407',{f:10});T(1244,2520,'10K',{f:10});D(1208,2543);L(1208,2543,1233,2543,C.w);GND(1208,2558);
L(1333,2490,1333,2505,C.w);L(1310,2505,1333,2505,C.w);GND(1332,2510);
L(1515,2418,1567,2418,C.w);D(1528,2418);D(1567,2418);L(1515,2442,1567,2442,C.w);L(1528,2418,1528,2560,C.w);CAPV(1528,2490,2560,'','');L(1528,2560,1563,2560,C.w);CAPV(1563,2466,2560,'','');D(1563,2560);GND(1563,2575);D(1563,2466);
T(1484,2515,'C404',{f:10});T(1484,2542,'0.1U',{f:10});T(1573,2512,'C405',{f:10});T(1573,2540,'22P',{f:10});
L(1515,2466,1733,2466,C.w);Q(1733,2466);T(1603,2458,'SPI_FLASH_SCK',{f:11});L(1515,2490,1733,2490,C.w);Q(1733,2490);T(1603,2482,'SPI_FLASH_SDI',{f:11});
[['SPI_FLASH_SDO','R496','SPI_SDO',2641],['SPI_FLASH_CZ1','R497','SPI_CSN',2665],['SPI_FLASH_SCK','R498','SPI_SCK',2689],['SPI_FLASH_SDI','R499','SPI_SDI',2713]].forEach(a=>{Q(1105,a[3]);L(1105,a[3],1414,a[3],C.w);Q(1414,a[3]);T(1137,a[3]-6,a[0],{f:10.5});RES(1281,a[3]-7,36,14);T(1290,a[3]+5,'22R',{f:10});T(1290,a[3]-12,a[1],{f:10});T(1345,a[3]-6,a[2],{f:10.5})});
ARR(1640,2555,'3V3SB');Q(1440,2627);L(1440,2627,1640,2627,C.w);L(1640,2585,1640,2627,C.w);T(1460,2620,'SPI_SDI',{f:10.5});D(1526,2627);RES(1565,2621,36,14);T(1533,2620,'R456',{f:10});T(1595,2618,'NC/ 1K',{f:10});
L(1526,2627,1526,2651,C.w);L(1526,2651,1640,2651,C.w);RES(1565,2645,36,14);T(1520,2672,'R457',{f:10});T(1590,2670,'NC/ 1K',{f:10});L(1640,2651,1640,2690,C.w);GND(1640,2693);

// ===== UART P401 =====
ARR(1884,1903,'3V3SB');L(1884,1933,1884,2029,C.w);D(1884,1947);L(1884,1947,1904,1947,C.w);L(1904,1947,1904,2053,C.w);RES(1878,1966,12,36);RES(1898,1966,12,36);
T(1855,1980,'R403',{f:10});T(1857,1997,'4K7',{f:10});T(1910,1945,'R462',{f:10});T(1910,1962,'4K7',{f:10});
R(1985,2006,35,120,C.b,'none',1.2);T(1994,2145,'P401',{f:10});
[[2029,'4'],[2053,'3'],[2077,'2'],[2101,'1']].forEach(a=>{L(1960,a[0],1995,a[0],C.s);T(1967,a[0]-4,a[1],{f:10});W.push('<circle cx="2003" cy="'+a[0]+'" r="3" fill="none" stroke="#999"/>')});
Q(1756,2029);L(1756,2029,1960,2029,C.w);T(1813,2021,'UART_TX',{f:10.5});D(1884,2029);D(1936,2029);
Q(1756,2053);L(1756,2053,1960,2053,C.w);T(1815,2045,'UART_RX',{f:10.5});D(1904,2053);D(1952,2053);D(1822,2053);
W.push('<circle cx="1936" cy="1978" r="6" fill="none" stroke="'+C.s+'"/><circle cx="1952" cy="2005" r="6" fill="none" stroke="'+C.s+'"/>');T(1958,1964,'UART_TX',{f:10.5});T(1967,1989,'UART_RX',{f:10.5});
L(1936,1984,1936,2029,C.w);L(1952,2011,1952,2053,C.w);D(1937,2077);L(1937,2077,1960,2077,C.w);L(1937,2077,1937,2120,C.w);GND(1937,2124);T(1857,2101,'GND_UART',{f:10.5});
L(1789,2029,1789,2125,C.w);L(1822,2053,1822,2125,C.w);CAPV(1789,2060,2130,'','');CAPV(1822,2060,2130,'','');D(1822,2125);GND(1822,2150);
T(1780,2060,'33P',{r:90,f:10});T(1815,2060,'33P',{r:90,f:10});T(1780,2105,'C407',{r:90,f:10});T(1815,2105,'C406',{r:90,f:10});
// XTAL
L(1800,2257,1975,2257,C.w);L(1800,2349,1975,2349,C.w);L(1800,2257,1800,2349,C.w);D(1800,2349);GND(1800,2365);
L(1873,2251,1873,2263,C.g,2.5);L(1880,2251,1880,2263,C.g,2.5);L(1877,2343,1877,2355,C.g,2.5);L(1884,2343,1884,2355,C.g,2.5);
T(1832,2252,'C402',{f:10});T(1889,2252,'27P',{f:10});T(1835,2344,'C403',{f:10});T(1892,2344,'27P',{f:10});
D(1929,2257);D(1979,2257);D(1929,2349);D(1979,2349);L(1929,2257,1929,2349,C.w);L(1979,2257,1979,2349,C.w);R(1922,2290,14,22,C.b,'#fff',1.2);RES(1973,2286,12,36);
T(1880,2296,'X24M',{f:10});T(1884,2311,'24M',{f:10});T(1950,2295,'24M',{r:90,f:10});T(1987,2301,'R402',{f:10});T(1987,2319,'1M',{f:10});
Q(2025,2257);Q(2020,2349);L(1979,2257,2025,2257,C.w);L(1979,2349,2020,2349,C.w);T(1975,2248,'XTALIN',{f:10.5});T(1970,2365,'XTALOUT',{f:10.5});
}catch(e){}
document.getElementById('g').innerHTML=W.join('');
})();
</script>
</body></html>
